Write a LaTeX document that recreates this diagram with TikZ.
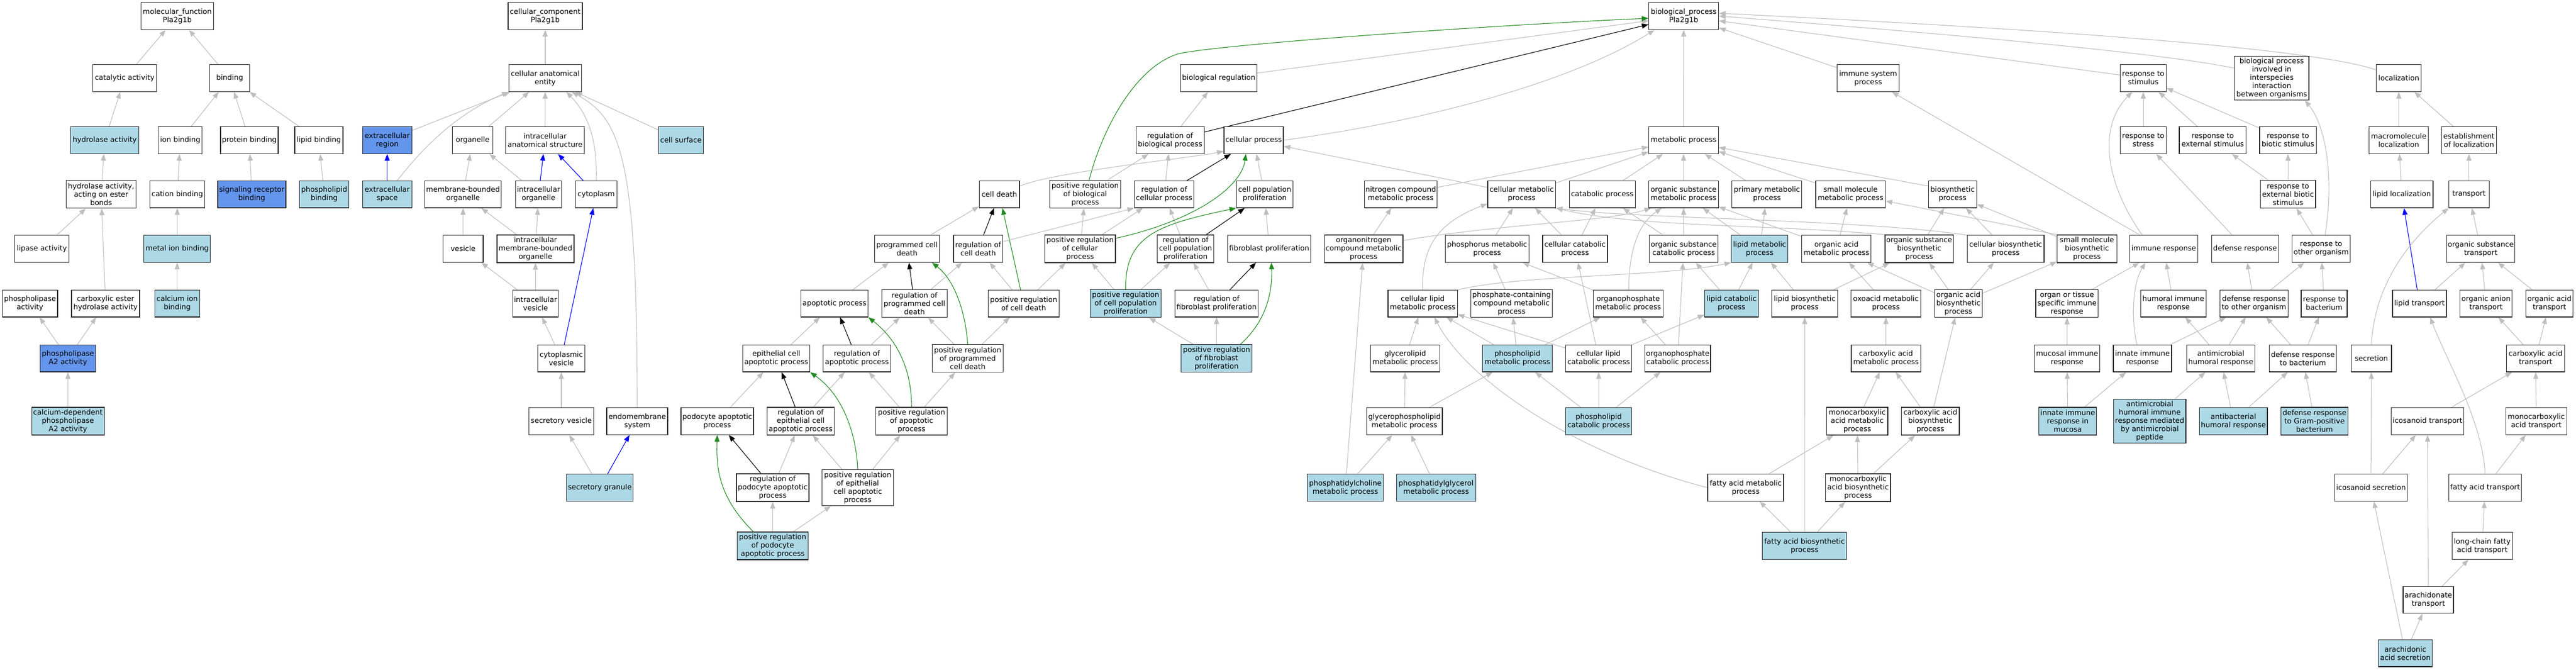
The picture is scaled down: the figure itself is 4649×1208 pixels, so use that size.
\documentclass[tikz,border=0pt]{standalone}
\usepackage{fontspec}
\setmainfont{DejaVu Sans}
\usetikzlibrary{arrows.meta,calc}
\definecolor{lbfill}{HTML}{ADD8E6}
\definecolor{cbfill}{HTML}{6495ED}
\definecolor{edgegray}{HTML}{BEBEBE}
\definecolor{fgreen}{HTML}{228B22}
\pgfdeclarelayer{bgfill}
\pgfdeclarelayer{edges}
\pgfsetlayers{bgfill,edges,main}
\tikzset{
  gobox/.style={draw=black!85, line width=1.2pt, fill=white, minimum height=48.5pt, inner xsep=0.5pt, inner ysep=1pt, align=center, font=\fontsize{13}{15}\selectfont},
  lb/.style={fill=lbfill}, cb/.style={fill=cbfill},
  h50/.style={minimum height=50pt}, h65/.style={minimum height=65pt}, h79/.style={minimum height=79pt},
  isa/.style={draw=edgegray, line width=1.1pt, -{Triangle[length=12pt,width=9pt]}},
  regl/.style={isa, draw=black},
  preg/.style={isa, draw=fgreen},
  partof/.style={isa, draw=blue},
}
\newcommand\GN[6][]{\node[gobox,minimum width=#5pt,#1] (#2) at (#3,#4) {#6};}
\newcommand\rwA{29}
\newcommand\rwB{141}
\newcommand\rwC{253}
\newcommand\rwD{350.7}
\newcommand\rwE{449}
\newcommand\rwF{547.7}
\newcommand\rwG{646.8}
\newcommand\rwH{760}
\newcommand\rwI{880}
\newcommand\rwJ{985}
\newcommand\rwK{1082.6}
\newcommand\rwL{1178.8}
\begin{document}
\begin{tikzpicture}[x=1pt,y=-1pt]
\useasboundingbox (0,0) rectangle (4649,1208);
\begin{pgfonlayer}{bgfill}
\fill[white] (0,0) rectangle (4649,1208);
\end{pgfonlayer}
% ---------------- molecular function
\GN{mf}{320}{\rwA}{131}{molecular\_function\\Pla2g1b}
\GN{cat}{225}{\rwB}{115}{catalytic activity}
\GN{bind}{414.6}{\rwB}{72}{binding}
\GN[lb]{hydro}{189}{\rwC}{123}{hydrolase activity}
\GN{ionb}{325.3}{\rwC}{79}{ion binding}
\GN{protb}{450}{\rwC}{104}{protein binding}
\GN{lipb}{575.5}{\rwC}{87}{lipid binding}
\GN[cb]{exreg}{698.8}{\rwC}{89}{extracellular\\region}
\GN[h50]{hest}{182.5}{\rwD}{126}{hydrolase activity,\\acting on ester\\bonds}
\GN{catb}{320}{\rwD}{99}{cation binding}
\GN[cb]{sigr}{454.4}{\rwD}{123}{signaling receptor\\binding}
\GN[lb]{plb}{585}{\rwD}{88.5}{phospholipid\\binding}
\GN[lb]{exsp}{698.8}{\rwD}{89}{extracellular\\space}
\GN{lipase}{75.6}{\rwE}{98.5}{lipase activity}
\GN[lb]{metal}{319.8}{\rwE}{120}{metal ion binding}
\GN{phl}{54.2}{\rwF}{99.5}{phospholipase\\activity}
\GN{carbest}{190.5}{\rwF}{123}{carboxylic ester\\hydrolase activity}
\GN[lb]{calcb}{319.8}{\rwF}{80.6}{calcium ion\\binding}
\GN[cb]{pla2}{122.6}{\rwG}{100}{phospholipase\\A2 activity}
\GN[lb,h50]{cdpla2}{122.6}{\rwH}{131}{calcium-dependent\\phospholipase\\A2 activity}
% ---------------- cellular component
\GN{ccroot}{984}{\rwA}{134}{cellular\_component\\Pla2g1b}
\GN{cae}{984}{\rwB}{131}{cellular anatomical\\entity}
\GN{organelle}{853}{\rwC}{72.6}{organelle}
\GN{ias}{983.7}{\rwC}{142}{intracellular\\anatomical structure}
\GN[lb]{cellsurf}{1229}{\rwC}{80.6}{cell surface}
\GN{mbo}{835.7}{\rwD}{138}{membrane-bounded\\organelle}
\GN{io}{972}{\rwD}{83.6}{intracellular\\organelle}
\GN{cyto}{1076}{\rwD}{74.6}{cytoplasm}
\GN{vesicle}{835.7}{\rwE}{72.6}{vesicle}
\GN[h50]{imbo}{966.4}{\rwE}{139}{intracellular\\membrane-bounded\\organelle}
\GN{iv}{966.5}{\rwF}{82.6}{intracellular\\vesicle}
\GN{cv}{1013}{\rwG}{85.6}{cytoplasmic\\vesicle}
\GN{sv}{1013}{\rwH}{117.4}{secretory vesicle}
\GN{endo}{1150}{\rwH}{110}{endomembrane\\system}
\GN[lb]{sg}{1082.6}{\rwI}{120}{secretory granule}
% ---------------- biological process: regulation / death
\GN{bproot}{3038.6}{\rwA}{126}{biological\_process\\Pla2g1b}
\GN{bioreg}{2199.5}{\rwB}{138}{biological regulation}
\GN{rbp}{2111.7}{\rwC}{123}{regulation of\\biological process}
\GN{cellproc}{2262.5}{\rwC}{107}{cellular process}
\GN{celldeath}{1803.6}{\rwD}{72.6}{cell death}
\GN[h50]{prbp}{1958.5}{\rwD}{128}{positive regulation\\of biological\\process}
\GN{rcp}{2101}{\rwD}{107.4}{regulation of\\cellular process}
\GN{cpp}{2282.4}{\rwD}{102}{cell population\\proliferation}
\GN{pcd}{1637}{\rwE}{117.4}{programmed cell\\death}
\GN{rcd}{1765.3}{\rwE}{88.6}{regulation of\\cell death}
\GN[h50]{prcp}{1949.3}{\rwE}{127.3}{positive regulation\\of cellular\\process}
\GN[h50]{rcpp}{2139.6}{\rwE}{102}{regulation of\\cell population\\proliferation}
\GN{fibro}{2290.6}{\rwE}{150}{fibroblast proliferation}
\GN{apop}{1506}{\rwF}{121}{apoptotic process}
\GN[h50]{rpcd}{1650.4}{\rwF}{117.4}{regulation of\\programmed cell\\death}
\GN{prcd}{1847.4}{\rwF}{128.4}{positive regulation\\of cell death}
\GN[lb,h50]{prcpp}{2031.5}{\rwF}{128.3}{positive regulation\\of cell population\\proliferation}
\GN{rfp}{2195.6}{\rwF}{150}{regulation of\\fibroblast proliferation}
\GN{epith}{1401}{\rwG}{121}{epithelial cell\\apoptotic process}
\GN{rap}{1546.5}{\rwG}{121.4}{regulation of\\apoptotic process}
\GN[h50]{prpcd}{1746.5}{\rwG}{128.3}{positive regulation\\of programmed\\cell death}
\GN[lb,h50]{prfp}{2195.6}{\rwG}{128.3}{positive regulation\\of fibroblast\\proliferation}
\GN{podo}{1294.5}{\rwH}{131}{podocyte apoptotic\\process}
\GN[h50]{repith}{1445}{\rwH}{121}{regulation of\\epithelial cell\\apoptotic process}
\GN[h50]{prap}{1645.2}{\rwH}{128.8}{positive regulation\\of apoptotic\\process}
\GN[h50]{rpodo}{1394.5}{\rwI}{131}{regulation of\\podocyte apoptotic\\process}
\GN[h65]{prepith}{1548}{\rwI}{128.3}{positive regulation\\of epithelial\\cell apoptotic\\process}
\GN[lb,h50]{prpodo}{1394.5}{\rwJ}{128}{positive regulation\\of podocyte\\apoptotic process}
% ---------------- metabolism
\GN{metab}{3038.4}{\rwC}{125.6}{metabolic process}
\GN{ncm}{2527.9}{\rwD}{131}{nitrogen compound\\metabolic process}
\GN{cmp}{2746.2}{\rwD}{122.4}{cellular metabolic\\process}
\GN{catp}{2891.7}{\rwD}{119}{catabolic process}
\GN{osm}{3038.4}{\rwD}{125.6}{organic substance\\metabolic process}
\GN{pmp}{3188.8}{\rwD}{126}{primary metabolic\\process}
\GN{smm}{3339.7}{\rwD}{125.4}{small molecule\\metabolic process}
\GN{bsp}{3523.8}{\rwD}{86.7}{biosynthetic\\process}
\GN[h50]{orgN}{2461}{\rwE}{141.8}{organonitrogen\\compound metabolic\\process}
\GN{phm}{2683.8}{\rwE}{150.7}{phosphorus metabolic\\process}
\GN{ccp}{2842.5}{\rwE}{117}{cellular catabolic\\process}
\GN{osc}{3038.6}{\rwE}{124}{organic substance\\catabolic process}
\GN[lb]{lmp}{3175.7}{\rwE}{101.8}{lipid metabolic\\process}
\GN{oam}{3314.3}{\rwE}{125}{organic acid\\metabolic process}
\GN[h50]{osb}{3463.6}{\rwE}{123.4}{organic substance\\biosynthetic\\process}
\GN{cbp}{3619.8}{\rwE}{138.5}{cellular biosynthetic\\process}
\GN[h50]{smb}{3766.4}{\rwE}{107.3}{small molecule\\biosynthetic\\process}
\GN{clm}{2567.6}{\rwF}{125.3}{cellular lipid\\metabolic process}
\GN[h50]{pcc}{2728}{\rwF}{146.7}{phosphate-containing\\compound metabolic\\process}
\GN{opm}{2938.4}{\rwF}{125.8}{organophosphate\\metabolic process}
\GN[lb]{lcp}{3125}{\rwF}{97}{lipid catabolic\\process}
\GN{lbp}{3257}{\rwF}{118.4}{lipid biosynthetic\\process}
\GN{oxo}{3403.5}{\rwF}{126}{oxoacid metabolic\\process}
\GN[h50]{oab}{3534.4}{\rwF}{85.6}{organic acid\\biosynthetic\\process}
\GN{glm}{2536}{\rwG}{125.3}{glycerolipid\\metabolic process}
\GN[lb]{plm}{2738.5}{\rwG}{125.8}{phospholipid\\metabolic process}
\GN{clc}{2885.2}{\rwG}{119}{cellular lipid\\catabolic process}
\GN{opc}{3027.8}{\rwG}{118.4}{organophosphate\\catabolic process}
\GN{cam}{3403.7}{\rwG}{125.4}{carboxylic acid\\metabolic process}
\GN{gpl}{2534.6}{\rwH}{136.8}{glycerophospholipid\\metabolic process}
\GN[lb]{plc}{2885.2}{\rwH}{119}{phospholipid\\catabolic process}
\GN[h50]{mam}{3351.8}{\rwH}{110.3}{monocarboxylic\\acid metabolic\\process}
\GN[h50]{cab}{3483.8}{\rwH}{104.3}{carboxylic acid\\biosynthetic\\process}
\GN[lb]{pc}{2428}{\rwI}{136.8}{phosphatidylcholine\\metabolic process}
\GN[lb]{pg}{2591.8}{\rwI}{142.8}{phosphatidylglycerol\\metabolic process}
\GN{famp}{3150.5}{\rwI}{137}{fatty acid metabolic\\process}
\GN[h50]{mab}{3353.3}{\rwI}{117.4}{monocarboxylic\\acid biosynthetic\\process}
\GN[lb]{fab}{3256.8}{\rwJ}{152}{fatty acid biosynthetic\\process}
% ---------------- immune / stimulus / localization
\GN{isp}{3371.5}{\rwB}{112.3}{immune system\\process}
\GN{rstim}{3868}{\rwB}{82.7}{response to\\stimulus}
\GN[h79]{bpint}{4099.8}{\rwB}{134.4}{biological process\\involved in\\interspecies\\interaction\\between organisms}
\GN{loc}{4329.2}{\rwB}{81}{localization}
\GN{rstress}{3868}{\rwC}{82.7}{response to\\stress}
\GN{rext}{3993.4}{\rwC}{120.8}{response to\\external stimulus}
\GN{rbio}{4129.2}{\rwC}{102.6}{response to\\biotic stimulus}
\GN{macro}{4329}{\rwC}{106.7}{macromolecule\\localization}
\GN{estab}{4455.8}{\rwC}{98.6}{establishment\\of localization}
\GN[h50]{rextb}{4129.2}{\rwD}{99.6}{response to\\external biotic\\stimulus}
\GN{liploc}{4334.5}{\rwD}{112.7}{lipid localization}
\GN{transport}{4455.8}{\rwD}{72.5}{transport}
\GN{immresp}{3905}{\rwE}{123}{immune response}
\GN{defresp}{4051.7}{\rwE}{120.8}{defense response}
\GN{rto}{4189}{\rwE}{104.7}{response to\\other organism}
\GN{ost}{4477}{\rwE}{122.8}{organic substance\\transport}
\GN[h50]{otisr}{3730.4}{\rwF}{112.8}{organ or tissue\\specific immune\\response}
\GN{humoral}{3922.4}{\rwF}{117.8}{humoral immune\\response}
\GN{dro}{4067.8}{\rwF}{122.8}{defense response\\to other organism}
\GN{rbact}{4194.4}{\rwF}{83}{response to\\bacterium}
\GN{liptr}{4366.5}{\rwF}{97}{lipid transport}
\GN{oat}{4486.5}{\rwF}{93.6}{organic anion\\transport}
\GN{oact}{4601}{\rwF}{85}{organic acid\\transport}
\GN{mucosal}{3730.5}{\rwG}{118}{mucosal immune\\response}
\GN{innate}{3866.5}{\rwG}{105}{innate immune\\response}
\GN{amhr}{4008}{\rwG}{122.8}{antimicrobial\\humoral response}
\GN{drb}{4156}{\rwG}{120.8}{defense response\\to bacterium}
\GN{secr}{4279.7}{\rwG}{72.5}{secretion}
\GN{catr}{4576}{\rwG}{104.7}{carboxylic acid\\transport}
\GN[lb,h50]{iirm}{3731.7}{\rwH}{104.3}{innate immune\\response in\\mucosa}
\GN[lb,h79]{amp}{3879.7}{\rwH}{130.5}{antimicrobial\\humoral immune\\response mediated\\by antimicrobial\\peptide}
\GN[lb]{abhr}{4030.6}{\rwH}{122.8}{antibacterial\\humoral response}
\GN[lb,h50]{drgp}{4177}{\rwH}{120.8}{defense response\\to Gram-positive\\bacterium}
\GN{icotr}{4381}{\rwH}{131.3}{icosanoid transport}
\GN{mcat}{4577.3}{\rwH}{110.2}{monocarboxylic\\acid transport}
\GN{icosec}{4279}{\rwI}{131.3}{icosanoid secretion}
\GN{fat}{4485}{\rwI}{130.8}{fatty acid transport}
\GN{lcfat}{4479.7}{\rwJ}{109.2}{long-chain fatty\\acid transport}
\GN{arat}{4382.5}{\rwK}{91}{arachidonate\\transport}
\GN[lb]{aas}{4341}{\rwL}{96.7}{arachidonic\\acid secretion}
% ================= edges
\begin{pgfonlayer}{edges}
\foreach \a/\b in {cat/mf, bind/mf, hydro/cat, ionb/bind, protb/bind, lipb/bind, hest/hydro, catb/ionb, sigr/protb, plb/lipb, lipase/hest, carbest/hest, metal/catb, calcb/metal, pla2/phl, pla2/carbest, cdpla2/pla2,
 cae/ccroot, exreg/cae, organelle/cae, ias/cae, cellsurf/cae, mbo/organelle, io/organelle, vesicle/mbo, imbo/mbo, imbo/io, iv/vesicle, iv/imbo, cv/iv, sv/cv, sg/sv,
 bioreg/bproot, metab/bproot, isp/bproot, rstim/bproot,
 rbp/bioreg, prbp/rbp, rcp/rbp, cpp/cellproc, prcp/prbp, prcp/rcp, rcpp/rcp, fibro/cpp, pcd/celldeath, apop/pcd, rpcd/rcd, prcd/rcd, prcd/prcp, prcpp/prcp, prcpp/rcpp, rfp/rcpp, prfp/prcpp, prfp/rfp, prpcd/rpcd, prpcd/prcd, rap/rpcd, prap/rap, prap/prpcd, epith/apop, podo/epith, repith/rap, rpodo/repith, prepith/repith, prepith/prap, prpodo/rpodo, prpodo/prepith,
 cmp/cellproc, ncm/metab, cmp/metab, catp/metab, osm/metab, pmp/metab, smm/metab, orgN/ncm, phm/cmp, ccp/cmp, ccp/catp, osc/catp, osc/osm, lmp/osm, lmp/pmp, oam/osm, oam/smm, osb/bsp, cbp/bsp, smb/bsp, pcc/phm, opm/phm, lcp/lmp, lcp/osc, lbp/lmp, lbp/osb, oxo/oam, oab/oam, oab/osb, oab/cbp, oab/smb, glm/clm, plm/clm, plm/pcc, plm/opm, clc/clm, clc/ccp, clc/lcp, opc/opm, opc/osc, cam/oxo, gpl/glm, gpl/plm, plc/plm, plc/clc, plc/opc, mam/cam, cab/cam, cab/oab, pc/gpl, pc/orgN, pg/gpl, famp/mam, mab/mam, mab/cab, fab/famp, fab/mab, fab/lbp,
 immresp/isp, rstress/rstim, rext/rstim, rbio/rstim, macro/loc, estab/loc, rextb/rext, rextb/rbio, liploc/macro, transport/estab, defresp/rstress, rto/rextb, ost/transport, otisr/immresp, humoral/immresp, dro/defresp, dro/rto, rbact/rto, liptr/ost, oat/ost, oact/ost, mucosal/otisr, innate/dro, amhr/humoral, amhr/dro, drb/dro, drb/rbact, catr/oat, catr/oact, iirm/mucosal, iirm/innate, amp/amhr, abhr/amhr, abhr/drb, drgp/drb, icotr/catr, mcat/catr, icosec/secr, icosec/icotr, fat/mcat, lcfat/fat, arat/lcfat, arat/icotr, aas/icosec, aas/arat}
  \draw[isa] (\a) -- (\b);
\foreach \a/\b in {rbp/bproot, rcp/cellproc, rcpp/cpp, rcd/celldeath, rpcd/pcd, rfp/fibro, rap/apop, repith/epith, rpodo/podo}
  \draw[regl] (\a) -- (\b);
\foreach \a/\b in {exsp/exreg, io/ias, cyto/ias, cv/cyto, sg/endo, liptr/liploc}
  \draw[partof] (\a) -- (\b);
\draw[preg] (prcd) -- (celldeath);
% curved / offset connectors
\draw[isa] ($(exsp.north east)+(-27,0)$) .. controls (745,290) and (810,210) .. (cae.south west);
\draw[isa] (cyto.north) .. controls (1078,260) and (1065,210) .. ($(cae.south east)+(-28,0)$);
\draw[isa] (endo.north) .. controls (1150,280) and (1120,215) .. ($(cae.south east)+(-18,0)$);
\draw[preg] ($(prbp.north)+(7,0)$) .. controls (1990,230) and (2050,120) .. (2127,97) .. controls (2200,80) and (2700,45) .. ($(bproot.west)+(0,4)$);
\draw[isa] (cellproc.east) .. controls (2600,215) and (2850,140) .. ($(bproot.south west)+(11,0)$);
\draw[isa] ($(bpint.west)+(0,-18)$) .. controls (3900,95) and (3500,60) .. (bproot.east);
\draw[isa] ($(loc.north west)+(0,10)$) .. controls (4200,95) and (3850,60) .. ($(bproot.east)+(0,-5)$);
\draw[isa] ($(celldeath.north east)+(0,10)$) .. controls (1900,310) and (2150,285) .. ($(cellproc.south west)+(0,-5)$);
\draw[preg] ($(prcp.east)+(0,-19)$) .. controls (2150,400) and (2240,340) .. ($(cellproc.south)+(-14,0)$);
\draw[preg] (prcpp.north) .. controls (2030,425) and (2090,405) .. (cpp.south west);
\draw[preg] ($(prfp.north)+(43,0)$) .. controls (2290,575) and (2296,520) .. ($(fibro.south)+(4,0)$);
\draw[preg] (prpcd.north) .. controls (1742,560) and (1722,505) .. ($(pcd.south)+(45,0)$);
\draw[preg] (prap.north) .. controls (1645,660) and (1615,610) .. (apop.south east);
\draw[preg] (prepith.north) .. controls (1545,780) and (1520,712) .. (epith.south east);
\draw[preg] ($(prpodo.north)+(-35,0)$) .. controls (1300,900) and (1292,850) .. (podo.south);
\draw[isa] (clm.north) .. controls (2565,440) and (2600,400) .. ($(cmp.south west)+(0,-8)$);
\draw[isa] (clm.north east) .. controls (2750,495) and (3000,500) .. (lmp.south west);
\draw[isa] ($(orgN.east)+(0,-15)$) .. controls (2700,405) and (2900,400) .. ($(osm.south west)+(5,0)$);
\draw[isa] ($(opm.north)+(1,0)$) .. controls (2940,440) and (2962,400) .. ($(osm.south west)+(24,0)$);
\draw[isa] (osb.north west) .. controls (3200,405) and (2950,410) .. (cmp.south east);
\draw[isa] (cbp.north west) .. controls (3350,395) and (2950,395) .. (cmp.south east);
\draw[isa] (famp.west) .. controls (2850,820) and (2650,690) .. ($(clm.south)+(21,0)$);
\draw[isa] (smb.north west) -- ($(smm.east)+(0,12)$);
\draw[isa] ($(bsp.west)+(0,-15)$) -- ($(metab.east)+(0,13)$);
\draw[isa] ($(rcd.east)+(0,-13)$) -- (rcp.south west);
\draw[isa] ($(immresp.north)+(-39,0)$) .. controls (3800,330) and (3785,230) .. ($(rstim.south)+(-20,0)$);
\draw[isa] ($(innate.north)+(-10,0)$) .. controls (3845,570) and (3850,510) .. ($(immresp.south)+(-33,0)$);
\draw[isa] ($(rto.north)+(7,0)$) .. controls (4212,330) and (4200,230) .. ($(bpint.south east)+(-8,0)$);
\draw[isa] (secr.north) .. controls (4285,520) and (4340,440) .. (transport.south west);
\draw[isa] (fat.north) .. controls (4480,760) and (4420,660) .. ($(liptr.south)+(19,0)$);
\end{pgfonlayer}
\end{tikzpicture}
\end{document}
